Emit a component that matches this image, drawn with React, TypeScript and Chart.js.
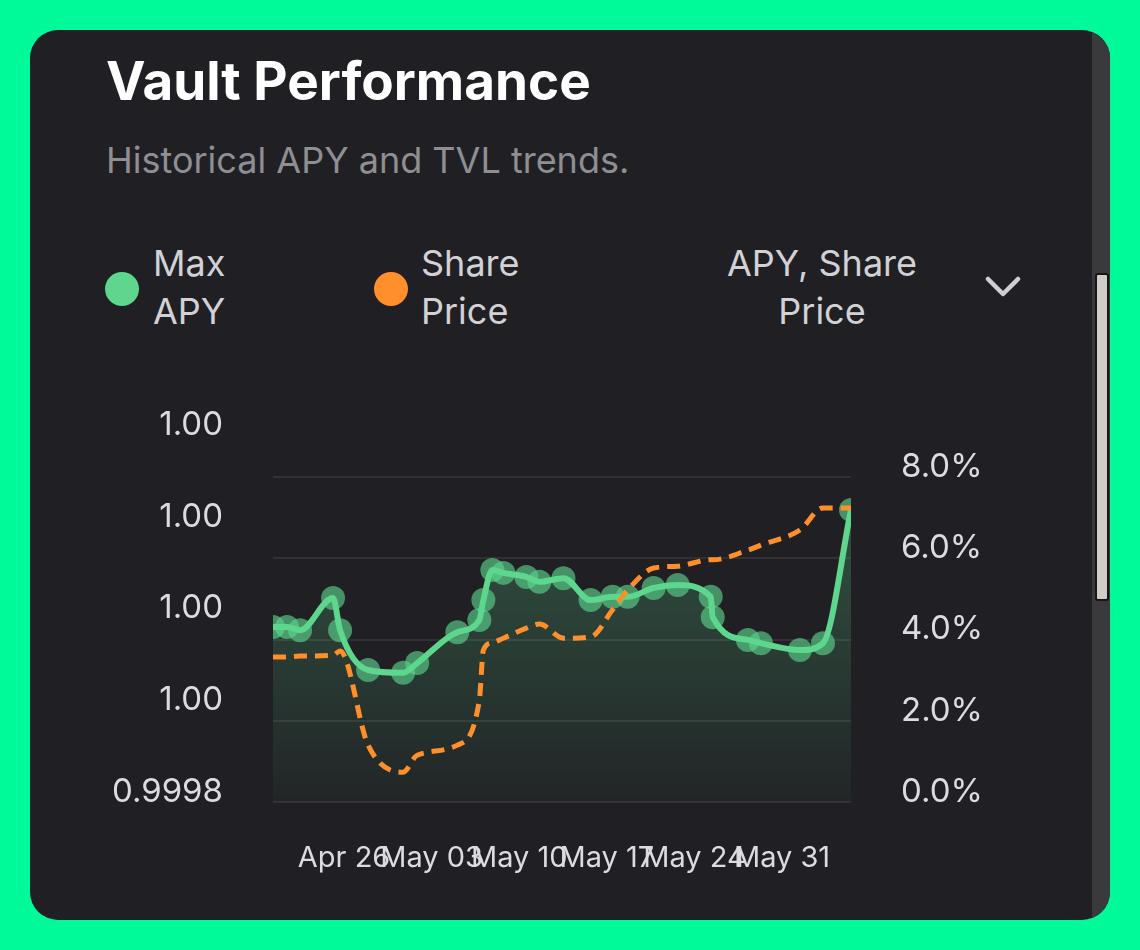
import React, { useEffect, useRef } from "react";
import { Chart, registerables } from "chart.js";

Chart.register(...registerables);

// x positions: days relative to Apr 26
const dayOffsets = [
  -5.68, -4.56, -3.52, -0.88, -0.32, 1.92, 4.72, 5.84, 9.05, 10.81, 11.13, 11.85, 12.73, 14.57,
  15.61, 17.53, 19.7, 21.46, 22.66, 24.74, 26.66, 29.3, 29.46, 32.27, 33.31, 36.43, 38.27, 40.51,
];
// Max APY (%)
const maxApy = [
  4.31, 4.31, 4.23, 5.02, 4.23, 3.25, 3.18, 3.42, 4.18, 4.48, 4.97, 5.71, 5.64, 5.54, 5.42, 5.51,
  4.97, 5.05, 5.05, 5.27, 5.34, 5.05, 4.55, 3.99, 3.91, 3.74, 3.91, 7.19,
];
// Share price
const sharePrice = [
  1.000116, 1.000116, 1.000118, 1.00012, 1.000129, 0.999924, 0.999865, 0.999902, 0.999924,
  1.000022, 1.000131, 1.000147, 1.000157, 1.000179, 1.000188, 1.000157, 1.00016, 1.000219,
  1.000262, 1.00031, 1.000314, 1.000328, 1.000328, 1.000349, 1.00036, 1.000393, 1.000441,
  1.000441,
];
const xTickValues = [0, 7, 14, 21, 28, 35];
const xTickLabels = ["Apr 26", "May 03", "May 10", "May 17", "May 24", "May 31"];
const priceTickValues = [0.9998, 1.0, 1.0002, 1.0004, 1.0006];
const priceTickLabels = ["0.9998", "1.00", "1.00", "1.00", "1.00"];
const apyTickValues = [0, 2, 4, 6, 8];
const apyTickLabels = ["0.0%", "2.0%", "4.0%", "6.0%", "8.0%"];

const GREEN = "#5ed68e";
const ORANGE = "#ff8f2b";
const TICK_COLOR = "#dcdce0";

function labelFor(values: number[], labels: string[], v: number) {
  let best = 0;
  for (let i = 1; i < values.length; i++) {
    if (Math.abs(values[i] - v) < Math.abs(values[best] - v)) best = i;
  }
  return labels[best];
}

export default function App() {
  const ref = useRef<HTMLCanvasElement>(null);

  useEffect(() => {
    if (!ref.current) return;
    const tickFont = { family: "Inter", size: 33 };
    const chart = new Chart(ref.current, {
      type: "line",
      data: {
        datasets: [
          {
            label: "Share Price",
            data: dayOffsets.map((x, i) => ({ x, y: sharePrice[i] })),
            yAxisID: "yPrice",
            borderColor: ORANGE,
            borderWidth: 5,
            borderDash: [13, 8],
            pointRadius: 0,
            pointHoverRadius: 0,
            fill: false,
            cubicInterpolationMode: "monotone",
            order: 0,
            clip: 0,
          } as any,
          {
            label: "Max APY",
            data: dayOffsets.map((x, i) => ({ x, y: maxApy[i] })),
            yAxisID: "yApy",
            borderColor: GREEN,
            borderWidth: 6,
            pointRadius: 12,
            pointBorderWidth: 0,
            pointBackgroundColor: "rgba(94,214,142,0.62)",
            fill: "start",
            backgroundColor: (ctx: any) => {
              const { chart } = ctx;
              const area = chart.chartArea;
              if (!area) return "rgba(94,214,142,0.2)";
              const g = chart.ctx.createLinearGradient(0, area.top, 0, area.bottom);
              g.addColorStop(0, "rgba(94,214,142,0.33)");
              g.addColorStop(1, "rgba(94,214,142,0.03)");
              return g;
            },
            cubicInterpolationMode: "monotone",
            order: 1,
            clip: 0,
          } as any,
        ],
      },
      options: {
        animation: false,
        responsive: false,
        maintainAspectRatio: false,
        layout: { padding: { top: 40, left: 0, right: 0, bottom: 0 } },
        plugins: { legend: { display: false }, tooltip: { enabled: false } },
        scales: {
          x: {
            type: "linear",
            min: dayOffsets[0],
            max: dayOffsets[dayOffsets.length - 1],
            grid: { display: false, drawTicks: false },
            border: { display: false },
            afterBuildTicks: (s: any) => {
              s.ticks = xTickValues.map((v) => ({ value: v }));
            },
            afterFit: (s: any) => {
              s.height = 83;
              s.paddingLeft = 0;
              s.paddingRight = 0;
            },
            ticks: {
              autoSkip: false,
              maxRotation: 0,
              minRotation: 0,
              padding: 39,
              color: TICK_COLOR,
              font: { family: "Inter", size: 29 },
              callback: (v: any) => labelFor(xTickValues, xTickLabels, Number(v)),
            },
          },
          yPrice: {
            type: "linear",
            position: "left",
            min: 0.9998,
            max: 1.0006,
            grid: { display: false, drawTicks: false },
            border: { display: false },
            afterBuildTicks: (s: any) => {
              s.ticks = priceTickValues.map((v) => ({ value: v }));
            },
            afterFit: (s: any) => {
              s.width = 173;
              s.paddingTop = 0;
              s.paddingBottom = 0;
            },
            ticks: {
              padding: 50,
              labelOffset: -10,
              color: TICK_COLOR,
              font: tickFont,
              callback: (v: any) => labelFor(priceTickValues, priceTickLabels, Number(v)),
            },
          },
          yApy: {
            type: "linear",
            position: "right",
            min: 0,
            max: 9.034,
            grid: { color: "rgba(255,255,255,0.08)", lineWidth: 2, drawTicks: false },
            border: { display: false },
            afterBuildTicks: (s: any) => {
              s.ticks = apyTickValues.map((v) => ({ value: v }));
            },
            afterFit: (s: any) => {
              s.width = 149;
              s.paddingTop = 0;
              s.paddingBottom = 0;
            },
            ticks: {
              padding: 50,
              labelOffset: -10,
              color: TICK_COLOR,
              font: tickFont,
              callback: (v: any) => labelFor(apyTickValues, apyTickLabels, Number(v)),
            },
          },
        },
      } as any,
    });
    return () => chart.destroy();
  }, []);

  const legendText: React.CSSProperties = {
    position: "absolute",
    top: 239,
    fontSize: 36,
    lineHeight: "48px",
    color: "#d1d1d6",
  };

  return (
    <div
      style={{
        position: "absolute",
        left: 0,
        top: 0,
        width: 1140,
        height: 950,
        background: "#00fa9a",
        overflow: "hidden",
        fontFamily: "Inter, 'Noto Sans', sans-serif",
      }}
    >
      <div
        style={{
          position: "absolute",
          left: 30,
          top: 30,
          width: 1080,
          height: 890,
          borderRadius: 28,
          background: "#202024",
          overflow: "hidden",
        }}
      >
        <div
          style={{
            position: "absolute",
            left: 1062,
            top: 0,
            width: 18,
            height: 890,
            background: "#3a3a3c",
          }}
        />
        <div
          style={{
            position: "absolute",
            left: 1065,
            top: 243,
            width: 14,
            height: 328,
            background: "#d2ccc8",
            border: "2px solid #161616",
            borderRadius: 3,
            boxSizing: "border-box",
          }}
        />
      </div>

      <div
        style={{
          position: "absolute",
          left: 106,
          top: 55,
          fontSize: 53,
          lineHeight: 1,
          fontWeight: 700,
          color: "#ffffff",
          whiteSpace: "nowrap",
        }}
      >
        Vault Performance
      </div>
      <div
        style={{
          position: "absolute",
          left: 106,
          top: 142,
          fontSize: 36,
          lineHeight: 1,
          color: "#8e8e93",
          whiteSpace: "nowrap",
        }}
      >
        Historical APY and TVL trends.
      </div>

      <div
        style={{
          position: "absolute",
          left: 105,
          top: 272,
          width: 34,
          height: 34,
          borderRadius: "50%",
          background: GREEN,
        }}
      />
      <div style={{ ...legendText, left: 153, width: 100 }}>Max APY</div>
      <div
        style={{
          position: "absolute",
          left: 374,
          top: 272,
          width: 34,
          height: 34,
          borderRadius: "50%",
          background: ORANGE,
        }}
      />
      <div style={{ ...legendText, left: 421, width: 120 }}>Share Price</div>
      <div style={{ ...legendText, left: 712, width: 220, textAlign: "center" }}>
        APY, Share Price
      </div>
      <svg
        style={{ position: "absolute", left: 980, top: 270 }}
        width={46}
        height={34}
        viewBox="0 0 46 34"
      >
        <polyline
          points="8,9 23,24 38,9"
          fill="none"
          stroke="#cfcfd3"
          strokeWidth={4.5}
          strokeLinecap="round"
          strokeLinejoin="round"
        />
      </svg>

      <canvas
        ref={ref}
        width={900}
        height={490}
        style={{ position: "absolute", left: 100, top: 395, width: 900, height: 490 }}
      />
    </div>
  );
}
